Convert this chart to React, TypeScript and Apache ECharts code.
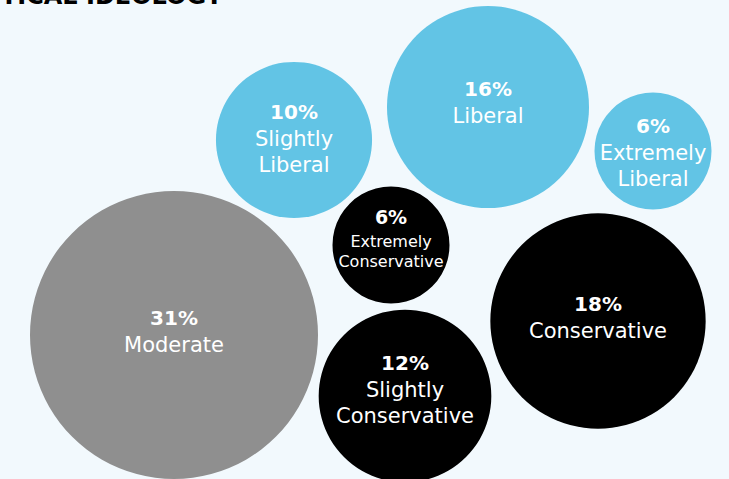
import React, { useEffect, useRef } from "react";
import * as echarts from "echarts";

// Share of respondents by political ideology
const categories = [
  "Moderate",
  "Slightly Liberal",
  "Liberal",
  "Extremely Liberal",
  "Extremely Conservative",
  "Conservative",
  "Slightly Conservative",
];
const labelLines = [
  "Moderate",
  "Slightly\nLiberal",
  "Liberal",
  "Extremely\nLiberal",
  "Extremely\nConservative",
  "Conservative",
  "Slightly\nConservative",
];
const shares = [31, 10, 16, 6, 6, 18, 12];
const leanings = ["moderate", "liberal", "liberal", "liberal", "conservative", "conservative", "conservative"];

// Packed layout: bubble centres in a 729 x 479 plotting space, plus label nudges
const bubbleCenters = [
  [174, 335],
  [294, 140],
  [488, 107],
  [653, 151],
  [391, 245],
  [598, 321],
  [405, 396],
];
const labelNudges = [-4, -2, -5, 1, -8, -4, -7];

const TITLE = "POLITICAL IDEOLOGY";
const FONT = "'DejaVu Sans', sans-serif";

const leaningColors: Record<string, string> = {
  moderate: "#8f8f8f",
  liberal: "#62c4e5",
  conservative: "#000000",
};

// square-root area scale: diameter grows with sqrt(share)
const minShare = Math.min(...shares);
const maxShare = Math.max(...shares);
const D_MIN = 117;
const D_MAX = 288;
const diameter = (v: number) =>
  D_MIN + ((Math.sqrt(v) - Math.sqrt(minShare)) / (Math.sqrt(maxShare) - Math.sqrt(minShare))) * (D_MAX - D_MIN);

export default function App() {
  const ref = useRef<HTMLDivElement>(null);

  useEffect(() => {
    if (!ref.current) return;
    const chart = echarts.init(ref.current, null, { renderer: "svg" });

    const data = categories.map((name, i) => {
      const small = diameter(shares[i]) < 140 && leanings[i] === "conservative";
      return {
        name,
        value: [bubbleCenters[i][0], bubbleCenters[i][1], shares[i]],
        symbolSize: diameter(shares[i]),
        itemStyle: { color: leaningColors[leanings[i]], opacity: 1 },
        label: {
          show: true,
          position: "inside",
          offset: [0, labelNudges[i]],
          opacity: 1,
          formatter: () =>
            `{p|${shares[i]}%}\n` +
            labelLines[i]
              .split("\n")
              .map((l) => `{${small ? "s" : "l"}|${l}}`)
              .join("\n"),
          rich: {
            p: {
              fontFamily: FONT,
              fontWeight: "bold",
              fontSize: small ? 19 : 20,
              color: "#ffffff",
              lineHeight: small ? 28 : 27,
            },
            l: { fontFamily: FONT, fontSize: 21, color: "#ffffff", lineHeight: 26 },
            s: { fontFamily: FONT, fontSize: 16, color: "#ffffff", lineHeight: 20 },
          },
        },
      };
    });

    chart.setOption({
      animation: false,
      backgroundColor: "#f2f9fd",
      grid: { left: 0, right: 0, top: 0, bottom: 0 },
      xAxis: { type: "value", min: 0, max: 729, show: false },
      yAxis: { type: "value", min: 0, max: 479, inverse: true, show: false },
      graphic: [
        {
          type: "text",
          right: 506,
          top: -16,
          style: {
            text: TITLE,
            font: `bold 24px ${FONT}`,
            fill: "#000000",
          },
        },
      ],
      series: [
        {
          type: "scatter",
          data,
          symbol: "circle",
          emphasis: { disabled: true },
          silent: true,
        },
      ],
    });

    return () => chart.dispose();
  }, []);

  return (
    <div
      ref={ref}
      style={{ position: "fixed", left: 0, top: 0, width: 729, height: 479 }}
    />
  );
}
